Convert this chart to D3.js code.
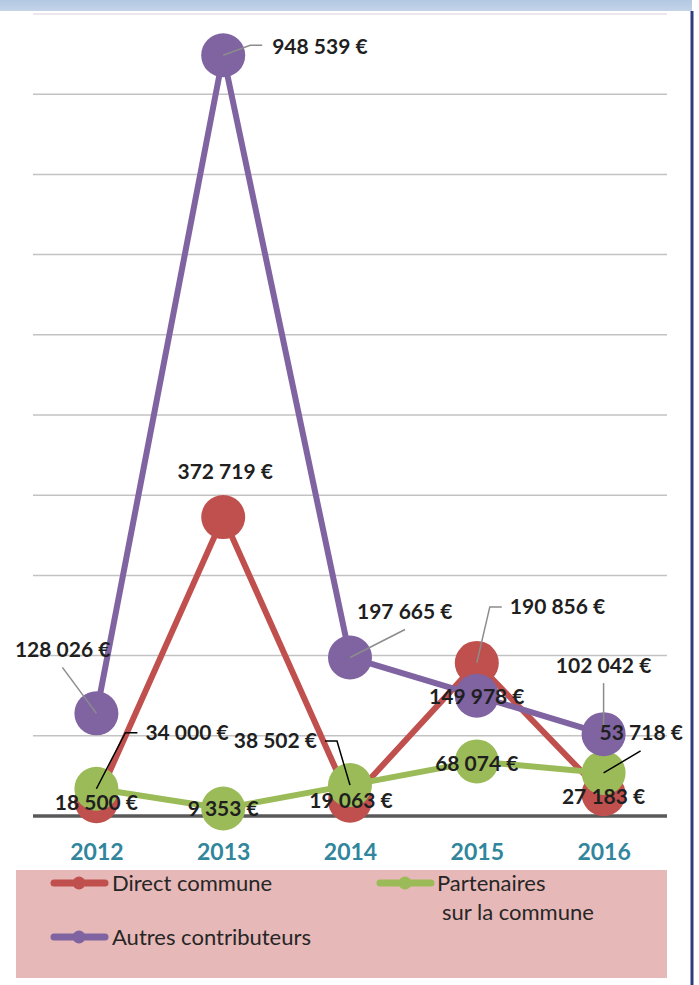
<!DOCTYPE html>
<html lang="fr">

<head>
	<meta charset="utf-8">
	<title>Contributions par année</title>
	<script type="text/javascript" src="https://cdn.jsdelivr.net/npm/d3@7"></script>
	<style type="text/css">
		body {
			margin: 0;
			background: #ffffff;
		}

		.axis text {
			font-family: Lato, sans-serif;
			font-weight: bold;
			font-size: 23px;
			fill: #31859c;
		}

		.label {
			font-family: Lato, sans-serif;
			font-weight: bold;
			font-size: 21px;
			fill: #1f1f1f;
		}

		.legend text {
			font-family: Lato, sans-serif;
			font-size: 22px;
			fill: #262626;
		}
	</style>
</head>

<body>
	<script type="text/javascript">
		// data
		var years = ["2012", "2013", "2014", "2015", "2016"];
		var direct = [18500, 372719, 19063, 190856, 27183];
		var partenaires = [34000, 9353, 38502, 68074, 53718];
		var autres = [128026, 948539, 197665, 149978, 102042];
		var seriesNames = ["Direct commune", "Partenaires sur la commune", "Autres contributeurs"];

		//Width and height
		var w = 699;
		var h = 985;

		var colors = ["#c0504d", "#9bbb59", "#8064a2"];

		// label placement relative to the point (text offset, anchor, leader line)
		var labelPos = [
			[
				{ dx: 0, dy: 1, a: "middle" },
				{ dx: 2, dy: -45, a: "middle" },
				{ dx: 1, dy: 0, a: "middle" },
				{ dx: 33, dy: -56, a: "start", lead: [[0, 0], [13, -56], [25, -56]], lc: "#8c8c8c" },
				{ dx: 0, dy: 2, a: "middle" }
			],
			[
				{ dx: 49, dy: -56, a: "start", lead: [[0, 0], [29, -56], [41, -56]], lc: "#000" },
				{ dx: 0, dy: 0, a: "middle" },
				{ dx: -33, dy: -44, a: "end", lead: [[0, 0], [-13, -44], [-25, -44]], lc: "#000" },
				{ dx: 0, dy: 2, a: "middle" },
				{ dx: -4, dy: -40, a: "start", lead: [[0, 0], [37, -22]], lc: "#000" }
			],
			[
				{ dx: 14, dy: -64, a: "end", lead: [[0, 0], [-34, -46]], lc: "#8c8c8c" },
				{ dx: 49, dy: -9, a: "start", lead: [[0, 0], [27, -10], [39, -10]], lc: "#8c8c8c" },
				{ dx: 7, dy: -46, a: "start", lead: [[0, 0], [55, -28]], lc: "#8c8c8c" },
				{ dx: 0, dy: 1, a: "middle" },
				{ dx: 0, dy: -69, a: "middle", lead: [[0, -51], [0, -4]], lc: "#8c8c8c" }
			]
		];

		var series = [direct, partenaires, autres];

		//Create scale functions
		var xScale = d3.scalePoint()
			.domain(years)
			.range([33, 667])
			.padding(0.5);

		var yScale = d3.scaleLinear()
			.domain([0, 1000000])
			.range([816, 14]);

		var fmt = d3.formatLocale({ decimal: ",", thousands: " ", grouping: [3], currency: ["", " €"] }).format(",d");

		//Create SVG element
		var svg = d3.select("body")
			.append("svg")
			.attr("width", w)
			.attr("height", h);

		// header band (cut off title)
		var grad = svg.append("defs").append("linearGradient")
			.attr("id", "hdr")
			.attr("x1", 0).attr("x2", 0).attr("y1", 0).attr("y2", 1);
		grad.append("stop").attr("offset", "0%").attr("stop-color", "#b3c8e2");
		grad.append("stop").attr("offset", "100%").attr("stop-color", "#c3d3e9");

		svg.append("rect")
			.attr("x", 0)
			.attr("y", 0)
			.attr("width", 692)
			.attr("height", 11)
			.attr("fill", "url(#hdr)");

		// right frame
		svg.append("line")
			.attr("x1", 692).attr("x2", 692)
			.attr("y1", 11).attr("y2", h)
			.attr("stroke", "#2e3b7c")
			.attr("stroke-width", 3);

		// gridlines
		svg.append("g")
			.selectAll("line")
			.data(yScale.ticks(10).filter(function (d) { return d > 0; }))
			.enter()
			.append("line")
			.attr("x1", 33)
			.attr("x2", 667)
			.attr("y1", function (d) { return yScale(d); })
			.attr("y2", function (d) { return yScale(d); })
			.attr("stroke", function (d) { return d === 1000000 ? "#e4dfe6" : "#c3c3c3"; })
			.attr("stroke-width", 1.5);

		// baseline
		svg.append("line")
			.attr("x1", 33)
			.attr("x2", 667)
			.attr("y1", yScale(0))
			.attr("y2", yScale(0))
			.attr("stroke", "#595959")
			.attr("stroke-width", 3.5);

		// x axis
		var xAxis = d3.axisBottom(xScale).tickSize(0).tickPadding(0);
		var gx = svg.append("g")
			.attr("class", "axis")
			.attr("transform", "translate(0,852)")
			.call(xAxis);
		gx.select(".domain").remove();
		gx.selectAll("text").attr("dy", "0.35em");

		// lines and circles
		var line = d3.line()
			.x(function (d, i) { return xScale(years[i]); })
			.y(function (d) { return yScale(d); });

		series.forEach(function (s, k) {
			var g = svg.append("g");
			g.append("path")
				.datum(s)
				.attr("d", line)
				.attr("fill", "none")
				.attr("stroke", colors[k])
				.attr("stroke-width", 6);
			g.selectAll("circle")
				.data(s)
				.enter()
				.append("circle")
				.attr("cx", function (d, i) { return xScale(years[i]); })
				.attr("cy", function (d) { return yScale(d); })
				.attr("r", 22)
				.attr("fill", colors[k]);
		});

		// leader lines and value labels
		var lg = svg.append("g");
		series.forEach(function (s, k) {
			s.forEach(function (v, i) {
				var px = xScale(years[i]);
				var py = yScale(v);
				var p = labelPos[k][i];
				if (p.lead) {
					lg.append("polyline")
						.attr("points", p.lead.map(function (q) { return (px + q[0]) + "," + (py + q[1]); }).join(" "))
						.attr("fill", "none")
						.attr("stroke", p.lc)
						.attr("stroke-width", 1.5);
				}
			});
		});
		series.forEach(function (s, k) {
			s.forEach(function (v, i) {
				var p = labelPos[k][i];
				lg.append("text")
					.attr("class", "label")
					.attr("x", xScale(years[i]) + p.dx)
					.attr("y", yScale(v) + p.dy)
					.attr("dy", "0.35em")
					.attr("text-anchor", p.a)
					.text(fmt(v) + " €");
			});
		});

		// legend
		var legend = svg.append("g").attr("class", "legend");
		legend.append("rect")
			.attr("x", 16)
			.attr("y", 870)
			.attr("width", 651)
			.attr("height", 108)
			.attr("fill", "#e6b8b7");

		var legendPos = [[51, 883], [377, 883], [51, 937]];
		seriesNames.forEach(function (name, k) {
			var lx = legendPos[k][0];
			var ly = legendPos[k][1];
			legend.append("line")
				.attr("x1", lx + 3).attr("x2", lx + 54)
				.attr("y1", ly).attr("y2", ly)
				.attr("stroke", colors[k])
				.attr("stroke-width", 7)
				.attr("stroke-linecap", "round");
			legend.append("circle")
				.attr("cx", lx + 28)
				.attr("cy", ly)
				.attr("r", 6.5)
				.attr("fill", colors[k]);
			if (k === 1) {
				legend.append("text").attr("x", lx + 60).attr("y", ly).attr("dy", "0.35em").text("Partenaires");
				legend.append("text").attr("x", lx + 65).attr("y", ly + 29).attr("dy", "0.35em").text("sur la commune");
			} else {
				legend.append("text").attr("x", lx + 61).attr("y", ly).attr("dy", "0.35em").text(name);
			}
		});
	</script>
</body>

</html>
